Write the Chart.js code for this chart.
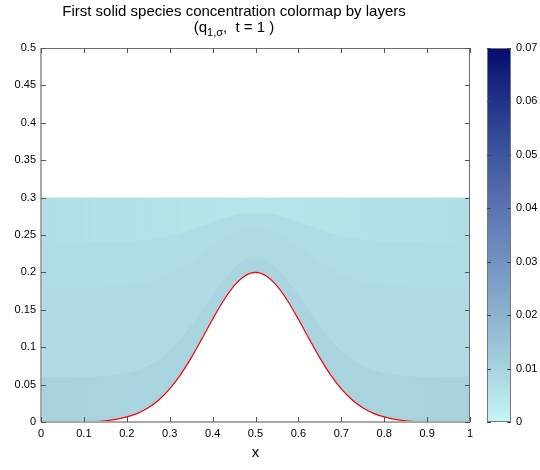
<!DOCTYPE html>
<html>
<head>
<meta charset="utf-8">
<script src="https://cdn.jsdelivr.net/npm/chart.js@4/dist/chart.umd.min.js"></script>
<style>
  html, body { margin: 0; padding: 0; background: #ffffff; }
  #wrap { position: relative; width: 540px; height: 470px; }
  #main { position: absolute; left: 0; top: 0; }
  #cbar { position: absolute; left: 470px; top: 0; }
</style>
</head>
<body>
<div id="wrap">
  <canvas id="main" width="540" height="470"></canvas>
  <canvas id="cbar" width="70" height="470"></canvas>
</div>
<script>
// ---- data ----
const xs = [0, 0.025, 0.05, 0.075, 0.1, 0.125, 0.15, 0.175, 0.2, 0.225, 0.25, 0.275, 0.3, 0.325, 0.35, 0.375, 0.4, 0.425, 0.45, 0.475, 0.5,
            0.525, 0.55, 0.575, 0.6, 0.625, 0.65, 0.675, 0.7, 0.725, 0.75, 0.775, 0.8, 0.825, 0.85, 0.875, 0.9, 0.925, 0.95, 0.975, 1];
// bottom (red line)
const bottom = [0, 0, 0, 0, 0.0002, 0.0006, 0.0016, 0.0036, 0.0068, 0.0116, 0.0190, 0.0298, 0.0444, 0.0631, 0.0857, 0.1111, 0.1373, 0.1618, 0.1820, 0.1953, 0.2,
                0.1953, 0.1820, 0.1618, 0.1373, 0.1111, 0.0857, 0.0631, 0.0444, 0.0298, 0.0190, 0.0116, 0.0068, 0.0036, 0.0016, 0.0006, 0.0002, 0, 0, 0, 0];
// layer interfaces
const iface1 = [0.06, 0.06, 0.0601, 0.0602, 0.0604, 0.0608, 0.0616, 0.0630, 0.0654, 0.0693, 0.0752, 0.0838, 0.0955, 0.1105, 0.1286, 0.1489, 0.1698, 0.1894, 0.2056, 0.2162, 0.22,
                0.2162, 0.2056, 0.1894, 0.1698, 0.1489, 0.1286, 0.1105, 0.0955, 0.0838, 0.0752, 0.0693, 0.0654, 0.0630, 0.0616, 0.0608, 0.0604, 0.0602, 0.0601, 0.06, 0.06];
const iface2 = [0.12, 0.12, 0.1201, 0.1201, 0.1203, 0.1206, 0.1212, 0.1223, 0.1241, 0.1270, 0.1314, 0.1379, 0.1466, 0.1579, 0.1714, 0.1867, 0.2024, 0.2171, 0.2292, 0.2372, 0.24,
                0.2372, 0.2292, 0.2171, 0.2024, 0.1867, 0.1714, 0.1579, 0.1466, 0.1379, 0.1314, 0.1270, 0.1241, 0.1223, 0.1212, 0.1206, 0.1203, 0.1201, 0.1201, 0.12, 0.12];
const iface3 = [0.18, 0.18, 0.18, 0.1801, 0.1802, 0.1804, 0.1808, 0.1815, 0.1827, 0.1846, 0.1876, 0.1919, 0.1978, 0.2052, 0.2143, 0.2244, 0.2349, 0.2447, 0.2528, 0.2581, 0.26,
                0.2581, 0.2528, 0.2447, 0.2349, 0.2244, 0.2143, 0.2052, 0.1978, 0.1919, 0.1876, 0.1846, 0.1827, 0.1815, 0.1808, 0.1804, 0.1802, 0.1801, 0.18, 0.18, 0.18];
const iface4 = [0.24, 0.24, 0.24, 0.24, 0.2401, 0.2402, 0.2404, 0.2408, 0.2414, 0.2423, 0.2438, 0.2460, 0.2489, 0.2526, 0.2571, 0.2622, 0.2675, 0.2724, 0.2764, 0.2791, 0.28,
                0.2791, 0.2764, 0.2724, 0.2675, 0.2622, 0.2571, 0.2526, 0.2489, 0.2460, 0.2438, 0.2423, 0.2414, 0.2408, 0.2404, 0.2402, 0.2401, 0.24, 0.24, 0.24, 0.24];
const surface = [0.3, 0.3, 0.3, 0.3, 0.3, 0.3, 0.3, 0.3, 0.3, 0.3, 0.3, 0.3, 0.3, 0.3, 0.3, 0.3, 0.3, 0.3, 0.3, 0.3, 0.3,
                 0.3, 0.3, 0.3, 0.3, 0.3, 0.3, 0.3, 0.3, 0.3, 0.3, 0.3, 0.3, 0.3, 0.3, 0.3, 0.3, 0.3, 0.3, 0.3, 0.3];
const xTicks = [0, 0.1, 0.2, 0.3, 0.4, 0.5, 0.6, 0.7, 0.8, 0.9, 1];
const yTicks = [0, 0.05, 0.1, 0.15, 0.2, 0.25, 0.3, 0.35, 0.4, 0.45, 0.5];
const cbTicks = [0, 0.01, 0.02, 0.03, 0.04, 0.05, 0.06, 0.07];
// colormap
const cbStops = [0, 0.01, 0.02, 0.03, 0.04, 0.05, 0.06, 0.07];
const cbColors = ['#c6f5f4', '#a6d3de', '#8eb2cf', '#7393c2', '#5a74b2', '#3e55a0', '#22338a', '#030c6c'];
const layerColors = ['#a9d3df', '#afdae4', '#afdae4', '#b0dce5', '#b3e0e6'];

const FONT = '"Liberation Sans", Arial, Helvetica, sans-serif';
const pts = arr => xs.map((x, i) => ({ x: x, y: arr[i] }));

function hGrad(chart, edge, mid) {
  const a = chart.chartArea;
  if (!a) return edge;
  const g = chart.ctx.createLinearGradient(a.left, 0, a.right, 0);
  g.addColorStop(0, edge);
  g.addColorStop(0.5, mid);
  g.addColorStop(1, edge);
  return g;
}

const titlePlugin = {
  id: 'subTitle',
  afterDraw(chart) {
    const ctx = chart.ctx;
    const cx = 234;
    ctx.save();
    ctx.fillStyle = '#000';
    ctx.textBaseline = 'middle';
    ctx.textAlign = 'center';
    ctx.font = '15px ' + FONT;
    ctx.fillText('First solid species concentration colormap by layers', cx, 12);
    // second line with subscript
    const p1 = '(q', sub = '1,σ', p2 = ',  t = 1 )';
    ctx.font = '15px ' + FONT;
    const w1 = ctx.measureText(p1).width, w3 = ctx.measureText(p2).width;
    ctx.font = '11px ' + FONT;
    const w2 = ctx.measureText(sub).width;
    let x = cx - (w1 + w2 + w3) / 2;
    ctx.textAlign = 'left';
    ctx.font = '15px ' + FONT;
    ctx.fillText(p1, x, 28); x += w1;
    ctx.font = '11px ' + FONT;
    ctx.fillText(sub, x, 33); x += w2;
    ctx.font = '15px ' + FONT;
    ctx.fillText(p2, x, 28);
    ctx.restore();
  }
};

const boxPlugin = {
  id: 'boxTicks',
  afterDatasetsDraw(chart) {
    const ctx = chart.ctx, a = chart.chartArea;
    const xs_ = chart.scales.x, ys_ = chart.scales.y;
    ctx.save();
    // top & right (thin dark)
    ctx.strokeStyle = '#6e6e6e';
    ctx.lineWidth = 1;
    ctx.beginPath();
    ctx.moveTo(a.left, a.top + 0.5); ctx.lineTo(a.right, a.top + 0.5);
    ctx.moveTo(a.right - 0.5, a.top); ctx.lineTo(a.right - 0.5, a.bottom);
    ctx.stroke();
    // left & bottom (lighter, thicker)
    ctx.strokeStyle = '#a8a8a8';
    ctx.lineWidth = 2;
    ctx.beginPath();
    ctx.moveTo(a.left, a.top); ctx.lineTo(a.left, a.bottom);
    ctx.moveTo(a.left, a.bottom); ctx.lineTo(a.right, a.bottom);
    ctx.stroke();
    // inward ticks
    ctx.strokeStyle = '#555';
    ctx.lineWidth = 1;
    ctx.beginPath();
    xTicks.forEach(v => {
      const px = Math.round(xs_.getPixelForValue(v)) + 0.5;
      ctx.moveTo(px, a.bottom); ctx.lineTo(px, a.bottom - 5);
      ctx.moveTo(px, a.top); ctx.lineTo(px, a.top + 5);
    });
    yTicks.forEach(v => {
      const py = Math.round(ys_.getPixelForValue(v)) + 0.5;
      ctx.moveTo(a.left, py); ctx.lineTo(a.left + 5, py);
      ctx.moveTo(a.right, py); ctx.lineTo(a.right - 5, py);
    });
    ctx.stroke();
    ctx.restore();
  }
};

// every layer is filled from its top interface down to the bottom (dataset 0);
// upper layers are painted first, lower ones over them, so no seams appear.
new Chart(document.getElementById('main'), {
  type: 'line',
  data: {
    datasets: [
      { label: 'bottom', data: pts(bottom), borderColor: '#ff0000', borderWidth: 1.2, fill: false },
      { label: 'layer 1', data: pts(iface1), borderWidth: 0, borderColor: 'rgba(0,0,0,0)', fill: 0,
        backgroundColor: c => hGrad(c.chart, '#a8d2de', '#aad4e0') },
      { label: 'layer 2', data: pts(iface2), borderWidth: 0, borderColor: 'rgba(0,0,0,0)', fill: 0, backgroundColor: layerColors[1] },
      { label: 'layer 3', data: pts(iface3), borderWidth: 0, borderColor: 'rgba(0,0,0,0)', fill: 0, backgroundColor: layerColors[2] },
      { label: 'layer 4', data: pts(iface4), borderWidth: 0, borderColor: 'rgba(0,0,0,0)', fill: 0, backgroundColor: layerColors[3] },
      { label: 'layer 5', data: pts(surface), borderWidth: 0, borderColor: 'rgba(0,0,0,0)', fill: 0,
        backgroundColor: c => hGrad(c.chart, '#b1dee5', '#b7e5e9') }
    ]
  },
  options: {
    responsive: false,
    animation: false,
    events: [],
    layout: { padding: { top: 48, right: 70, left: 0, bottom: 0 } },
    elements: { point: { radius: 0 }, line: { cubicInterpolationMode: 'monotone' } },
    plugins: {
      legend: { display: false },
      tooltip: { enabled: false },
      filler: { drawTime: 'beforeDatasetsDraw' }
    },
    scales: {
      x: {
        type: 'linear', min: 0, max: 1,
        afterBuildTicks: s => { s.ticks = xTicks.map(v => ({ value: v })); },
        afterFit: s => { s.height = 48; },
        grid: { display: false, drawTicks: false },
        border: { display: false },
        ticks: { color: '#000', padding: 5, font: { family: FONT, size: 11 }, maxRotation: 0,
                 callback: v => String(v) },
        title: { display: true, text: 'x', color: '#000', font: { family: FONT, size: 15 }, padding: { top: 0, bottom: 8 } }
      },
      y: {
        type: 'linear', min: 0, max: 0.5,
        afterBuildTicks: s => { s.ticks = yTicks.map(v => ({ value: v })); },
        afterFit: s => { s.width = 41; },
        grid: { display: false, drawTicks: false },
        border: { display: false },
        ticks: { color: '#000', padding: 5, font: { family: FONT, size: 11 }, callback: v => String(v) }
      }
    }
  },
  plugins: [titlePlugin, boxPlugin]
});

// ---- colorbar ----
function cbGradient(chart) {
  const a = chart.chartArea;
  if (!a) return cbColors[0];
  const ys = chart.scales.y;
  const g = chart.ctx.createLinearGradient(0, ys.getPixelForValue(0), 0, ys.getPixelForValue(0.07));
  cbStops.forEach((v, i) => g.addColorStop(v / 0.07, cbColors[i]));
  return g;
}
const cbBox = {
  id: 'cbBox',
  afterDatasetsDraw(chart) {
    const ctx = chart.ctx, a = chart.chartArea, ys = chart.scales.y;
    ctx.save();
    ctx.strokeStyle = '#777';
    ctx.lineWidth = 1;
    ctx.strokeRect(a.left + 0.5, a.top + 0.5, a.right - a.left - 1, a.bottom - a.top - 1);
    ctx.strokeStyle = '#444';
    ctx.beginPath();
    cbTicks.forEach(v => {
      const py = Math.round(ys.getPixelForValue(v)) + 0.5;
      ctx.moveTo(a.left, py); ctx.lineTo(a.left + 4, py);
      ctx.moveTo(a.right, py); ctx.lineTo(a.right - 4, py);
    });
    ctx.stroke();
    ctx.restore();
  }
};
new Chart(document.getElementById('cbar'), {
  type: 'bar',
  data: {
    labels: ['c'],
    datasets: [{ label: 'concentration', data: [[cbStops[0], cbStops[cbStops.length - 1]]],
                 backgroundColor: c => cbGradient(c.chart), borderWidth: 0,
                 barPercentage: 1, categoryPercentage: 1 }]
  },
  options: {
    responsive: false,
    animation: false,
    events: [],
    layout: { padding: { top: 48, bottom: 48, left: 17, right: 0 } },
    plugins: { legend: { display: false }, tooltip: { enabled: false } },
    scales: {
      x: { display: false },
      y: {
        position: 'right', min: 0, max: 0.07,
        afterBuildTicks: s => { s.ticks = cbTicks.map(v => ({ value: v })); },
        afterFit: s => { s.width = 29; },
        grid: { display: false, drawTicks: false },
        border: { display: false },
        ticks: { color: '#000', padding: 5, font: { family: FONT, size: 11 }, callback: v => String(v) }
      }
    }
  },
  plugins: [cbBox]
});
</script>
</body>
</html>
